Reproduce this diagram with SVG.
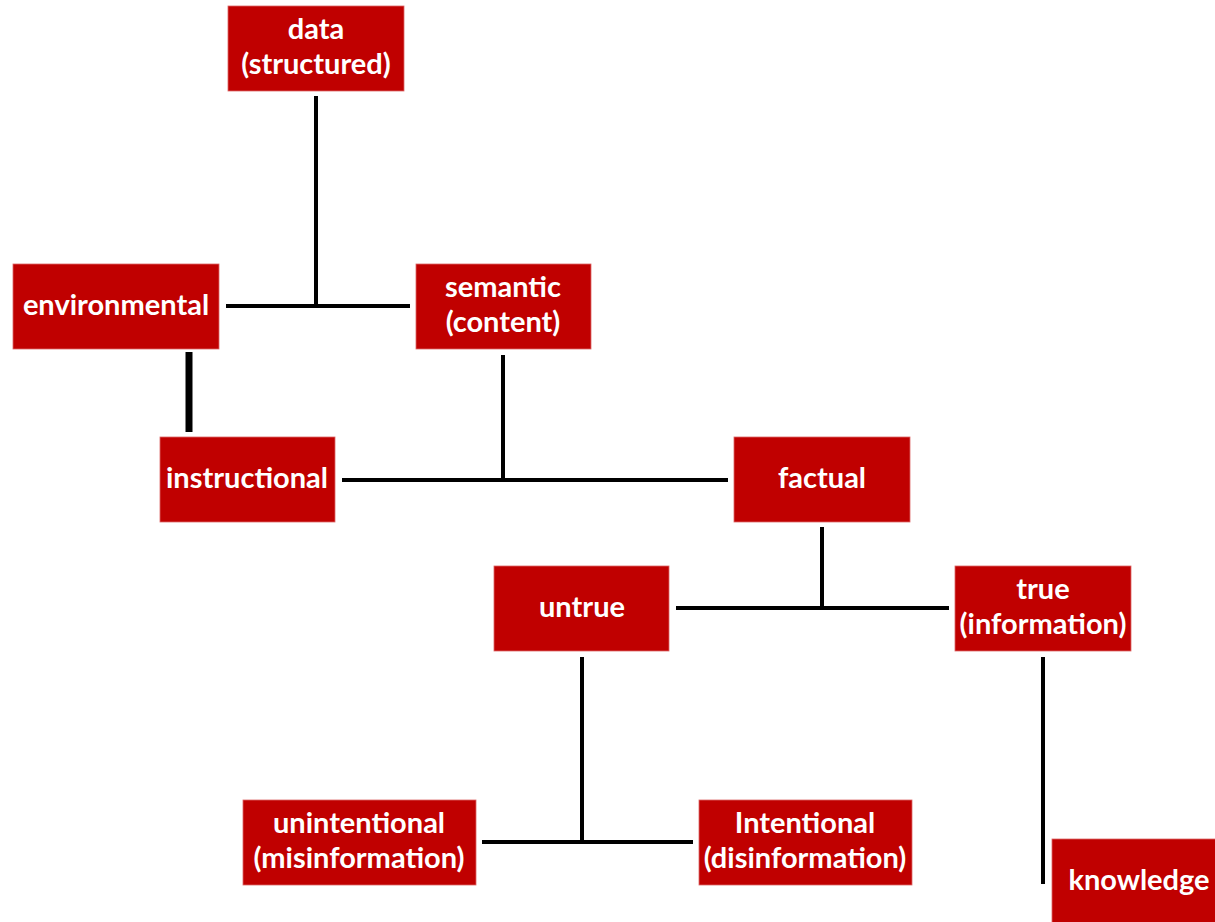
<svg xmlns="http://www.w3.org/2000/svg" width="1215" height="922" viewBox="0 0 1215 922">
<style>
.box{fill:#c00000;stroke:#d66;stroke-width:0.8}
.t{font-family:Lato,"Open Sans","Liberation Sans",sans-serif;font-weight:bold;font-size:29px;fill:#fff;text-anchor:middle}
.c{stroke:#000;stroke-width:4;fill:none}
</style>
<rect width="1215" height="922" fill="#fff"/>
<g id="connectors">
<line class="c" x1="316" y1="96" x2="316" y2="308"/>
<line class="c" x1="226" y1="306" x2="410" y2="306"/>
<line class="c" x1="189" y1="352" x2="189" y2="432" style="stroke-width:7"/>
<line class="c" x1="503" y1="355" x2="503" y2="482"/>
<line class="c" x1="342" y1="480" x2="728" y2="480"/>
<line class="c" x1="822" y1="527" x2="822" y2="610"/>
<line class="c" x1="676" y1="608" x2="949" y2="608"/>
<line class="c" x1="582" y1="657" x2="582" y2="844"/>
<line class="c" x1="482" y1="842" x2="693" y2="842"/>
<line class="c" x1="1043" y1="657" x2="1043" y2="884"/>
</g>
<g id="data"><rect class="box" x="228" y="6" width="176" height="85"/><text class="t" x="316" y="39">data</text><text class="t" x="316" y="74">(structured)</text></g>
<g id="environmental"><rect class="box" x="13" y="264" width="206" height="85"/><text class="t" x="116" y="315">environmental</text></g>
<g id="semantic"><rect class="box" x="416" y="264" width="175" height="85"/><text class="t" x="503" y="297">semantic</text><text class="t" x="503" y="332">(content)</text></g>
<g id="instructional"><rect class="box" x="160" y="437" width="175" height="85"/><text class="t" x="247" y="488">instructional</text></g>
<g id="factual"><rect class="box" x="734" y="437" width="176" height="85"/><text class="t" x="822" y="488">factual</text></g>
<g id="untrue"><rect class="box" x="494" y="566" width="175" height="85"/><text class="t" x="582" y="617">untrue</text></g>
<g id="true"><rect class="box" x="955" y="566" width="176" height="85"/><text class="t" x="1043" y="599">true</text><text class="t" x="1043" y="634">(information)</text></g>
<g id="unintentional"><rect class="box" x="243" y="800" width="233" height="85"/><text class="t" x="359" y="833">unintentional</text><text class="t" x="359" y="868">(misinformation)</text></g>
<g id="intentional"><rect class="box" x="699" y="800" width="213" height="85"/><text class="t" x="805" y="833">Intentional</text><text class="t" x="805" y="868">(disinformation)</text></g>
<g id="knowledge"><rect class="box" x="1052" y="839" width="170" height="90"/><text class="t" x="1139" y="890">knowledge</text></g>
</svg>
